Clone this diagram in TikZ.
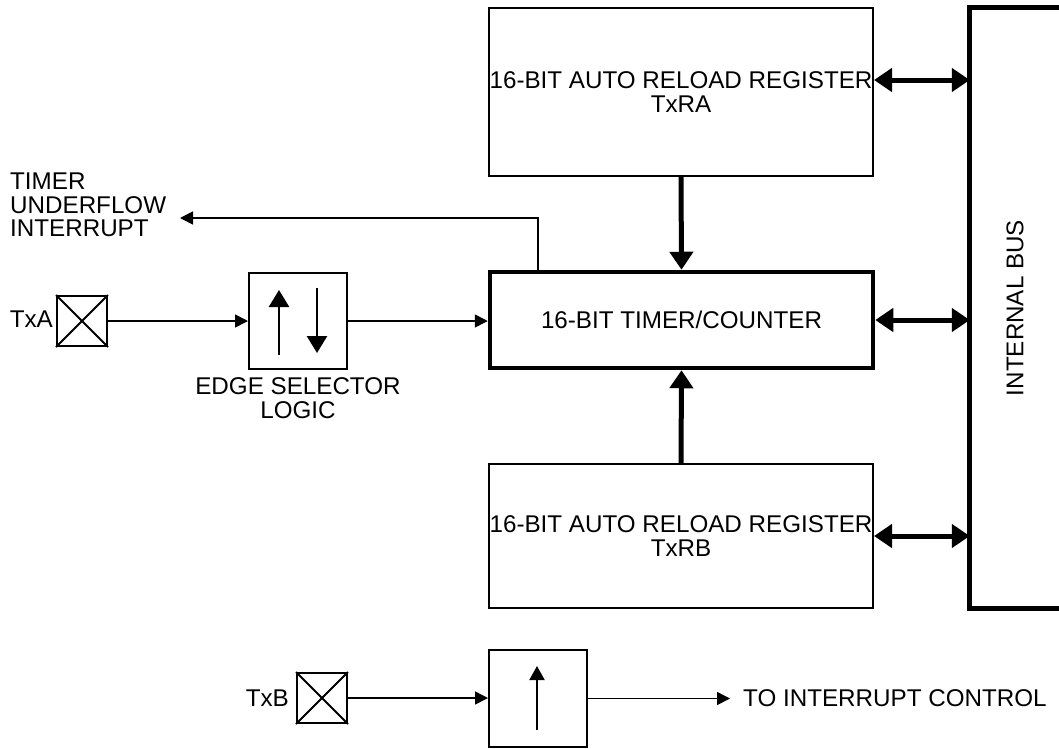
\documentclass[tikz,border=0pt]{standalone}
\usepackage{fontspec}
\setmainfont{Liberation Sans}
\usetikzlibrary{arrows.meta}
\begin{document}
\begin{tikzpicture}[x=1pt,y=-1pt,
  font=\fontsize{24.2}{23.5}\selectfont,
  box/.style={draw, line width=2pt, inner sep=0pt, align=center},
  bigbox/.style={draw, line width=4.5pt, inner sep=0pt, align=center},
  pad/.style={draw, line width=2pt, inner sep=0pt, minimum width=50pt, minimum height=50pt},
  cross/.style={line width=2pt},
  lbl/.style={inner sep=0pt, align=center},
  thinarrow/.style={line width=1.6pt, -{Triangle[length=13pt,width=13pt]}},
  edgearrow/.style={line width=2.5pt, -{Triangle[length=17pt,width=20pt]}},
  risearrow/.style={line width=2pt, -{Triangle[length=14pt,width=15pt]}},
  thickarrow/.style={line width=5pt, -{Triangle[length=18pt,width=23pt]}},
  dblarrow/.style={line width=5pt, {Triangle[length=18pt,width=23pt]}-{Triangle[length=18pt,width=23pt]}},
  busline/.style={line width=5pt, line join=miter}
]
\useasboundingbox (0,0) rectangle (1059,748);

% registers and counter
\node[box, minimum width=384pt, minimum height=168pt] (ra) at (681,92) {16-BIT AUTO RELOAD REGISTER\\TxRA};
\node[bigbox, minimum width=383pt, minimum height=96pt] (tc) at (681.5,320) {16-BIT TIMER/COUNTER};
\node[box, minimum width=384pt, minimum height=144pt] (rb) at (681,536) {16-BIT AUTO RELOAD REGISTER\\TxRB};

% internal bus
\node[inner sep=0pt, minimum width=90pt, minimum height=600pt] (bus) at (1015,308) {\rotatebox{90}{INTERNAL BUS}};
\draw[busline] (bus.north east) -- (bus.north west) -- (bus.south west) -- (bus.south east);

% bus connections
\draw[dblarrow] ([yshift=12pt]ra.east) -- ([yshift=12pt]ra.east -| bus.west);
\draw[dblarrow] (tc.east) -- (tc.east -| bus.west);
\draw[dblarrow] (rb.east) -- (rb.east -| bus.west);

% reload paths
\draw[thickarrow] (ra.south) -- (tc.north);
\draw[thickarrow] (rb.north) -- (tc.south);

% underflow interrupt
\node[lbl, align=left, anchor=west] (uftext) at (10,205) {TIMER\\UNDERFLOW\\INTERRUPT};
\coordinate (ufk) at (538,218);
\coordinate (uf) at (180,218);
\draw[thinarrow] (tc.north -| ufk) -- (ufk) -- (uf);

% TxA input
\node[pad] (pa) at (82,321) {};
\draw[cross] (pa.north west) -- (pa.south east) (pa.north east) -- (pa.south west);
\node[lbl, anchor=east] (patext) at (53,319) {TxA};
\node[box, minimum width=98pt, minimum height=96pt] (es) at (298,321) {};
\draw[edgearrow] ([xshift=-19pt,yshift=-34pt]es.center) -- ([xshift=-19pt,yshift=31pt]es.center);
\draw[edgearrow] ([xshift=19pt,yshift=33pt]es.center) -- ([xshift=19pt,yshift=-32pt]es.center);
\node[lbl] (estext) at (298,398) {EDGE SELECTOR\\LOGIC};
\draw[thinarrow] (pa.east) -- (es.west);
\draw[thinarrow] (es.east) -- (es.east -| tc.west);

% TxB input
\node[pad] (pb) at (322,698) {};
\draw[cross] (pb.north west) -- (pb.south east) (pb.north east) -- (pb.south west);
\node[lbl, anchor=east] (pbtext) at (289,698) {TxB};
\node[box, minimum width=98pt, minimum height=97pt] (eb) at (538,698.5) {};
\draw[risearrow] ([xshift=-1pt,yshift=-31.5pt]eb.center) -- ([xshift=-1pt,yshift=32.5pt]eb.center);
\draw[thinarrow] (pb.east) -- (pb.east -| eb.west);
\node[lbl, anchor=west] (ictext) at (743,698.5) {TO INTERRUPT CONTROL};
\draw[thinarrow] (eb.east) -- ([xshift=-13pt]ictext.west);
\end{tikzpicture}
\end{document}
